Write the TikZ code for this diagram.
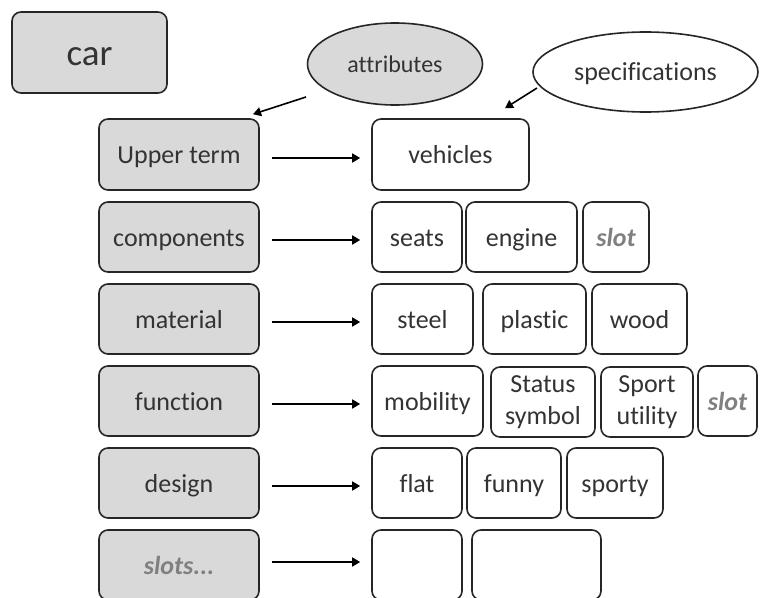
\documentclass[tikz,border=0pt]{standalone}
\usepackage{fontspec}
\setmainfont{Carlito}[Ligatures={NoCommon}]
\usetikzlibrary{shapes.geometric,arrows.meta}
\definecolor{txt}{HTML}{333333}
\definecolor{slotc}{HTML}{808080}
\definecolor{gfill}{HTML}{D9D9D9}
\definecolor{edge}{HTML}{262626}
\tikzset{
  base/.style={draw=edge, line width=1.6pt, rounded corners=9pt, inner sep=0pt, align=center,
    text=txt, font=\fontsize{26}{31}\selectfont, text height=18pt, text depth=0pt},
  twoline/.style={text height={}, text depth={}, font=\fontsize{26}{32}\selectfont},
  gbox/.style={base, fill=gfill, minimum width=160pt, minimum height=70pt},
  wbox/.style={base, fill=white, minimum height=70pt},
  ell/.style={ellipse, draw=edge, line width=1.6pt, inner sep=0pt, text=txt, text height=17pt, text depth=0pt},
  arr/.style={draw=black, line width=1.6pt, -{Triangle[length=8pt,width=9pt]}},
  slottext/.style={text=slotc, font=\fontsize{26}{31}\selectfont\bfseries\itshape}
}
\begin{document}
\begin{tikzpicture}[x=1pt,y=-1pt]
\useasboundingbox (0,0) rectangle (760,597);
% title
\node[base, fill=gfill, minimum width=155pt, minimum height=81pt, font=\fontsize{37}{44}\selectfont, text height=26pt] (car) at (89.5,52.5) {car};
% ellipses
\node[ell, fill=gfill, minimum width=175pt, minimum height=82pt, font=\fontsize{24}{29}\selectfont] (attr) at (395,64) {attributes};
\node[ell, fill=white, minimum width=225pt, minimum height=80pt, font=\fontsize{26}{31}\selectfont] (spec) at (645.5,72) {specifications};
% left column
\node[gbox, minimum height=71pt] (ut) at (179,154.5) {Upper term};
\node[gbox] (comp) at (179,237) {components};
\node[gbox] (mat) at (179,319) {material};
\node[gbox] (fun) at (179,401) {function};
\node[gbox] (des) at (179,483) {design};
\node[gbox, slottext] (slots) at (179,565) {slots...};
% right column
\node[wbox, minimum width=157pt, minimum height=71pt] (veh) at (450.5,154.5) {vehicles};
\node[wbox, minimum width=90pt] (seats) at (417,237) {seats};
\node[wbox, minimum width=111pt] (engine) at (521.5,237) {engine};
\node[wbox, minimum width=66pt, slottext] (slota) at (616,237) {slot};
\node[wbox, minimum width=101pt] (steel) at (422.5,319) {steel};
\node[wbox, minimum width=103pt] (plastic) at (534.5,319) {plastic};
\node[wbox, minimum width=95pt] (wood) at (639.5,319) {wood};
\node[wbox, minimum width=111pt] (mob) at (427.5,401) {mobility};
\node[wbox, twoline, minimum width=104pt] (status) at (543,402) {Status\\symbol};
\node[wbox, twoline, minimum width=92pt] (sport) at (647,402) {Sport\\utility};
\node[wbox, minimum width=59pt, slottext] (slotb) at (727.5,401) {slot};
\node[wbox, minimum width=90pt] (flat) at (417,483) {flat};
\node[wbox, minimum width=94pt] (funny) at (514,483) {funny};
\node[wbox, minimum width=96pt] (sporty) at (615,483) {sporty};
\node[wbox, minimum width=90pt] (ea) at (417,565) {};
\node[wbox, minimum width=129pt] (eb) at (536.5,565) {};
% arrows
\draw[arr] ([shift={(-89pt,-33pt)}]attr.center) -- ([shift={(74pt,4pt)}]ut.north);
\draw[arr] ([shift={(-108.5pt,-16pt)}]spec.center) -- ([shift={(54.5pt,10pt)}]veh.north);
\draw[arr] ([shift={(12pt,-3.5pt)}]ut.east) -- ([shift={(-11pt,-3.5pt)}]veh.west);
\draw[arr] ([shift={(12pt,-3pt)}]comp.east) -- ([shift={(-11pt,-3pt)}]seats.west);
\draw[arr] ([shift={(12pt,-3pt)}]mat.east) -- ([shift={(-11pt,-3pt)}]steel.west);
\draw[arr] ([shift={(12pt,-3pt)}]fun.east) -- ([shift={(-11pt,-3pt)}]mob.west);
\draw[arr] ([shift={(12pt,-3pt)}]des.east) -- ([shift={(-11pt,-3pt)}]flat.west);
\draw[arr] ([shift={(12pt,3pt)}]slots.east) -- ([shift={(-11pt,3pt)}]ea.west);
\end{tikzpicture}
\end{document}
